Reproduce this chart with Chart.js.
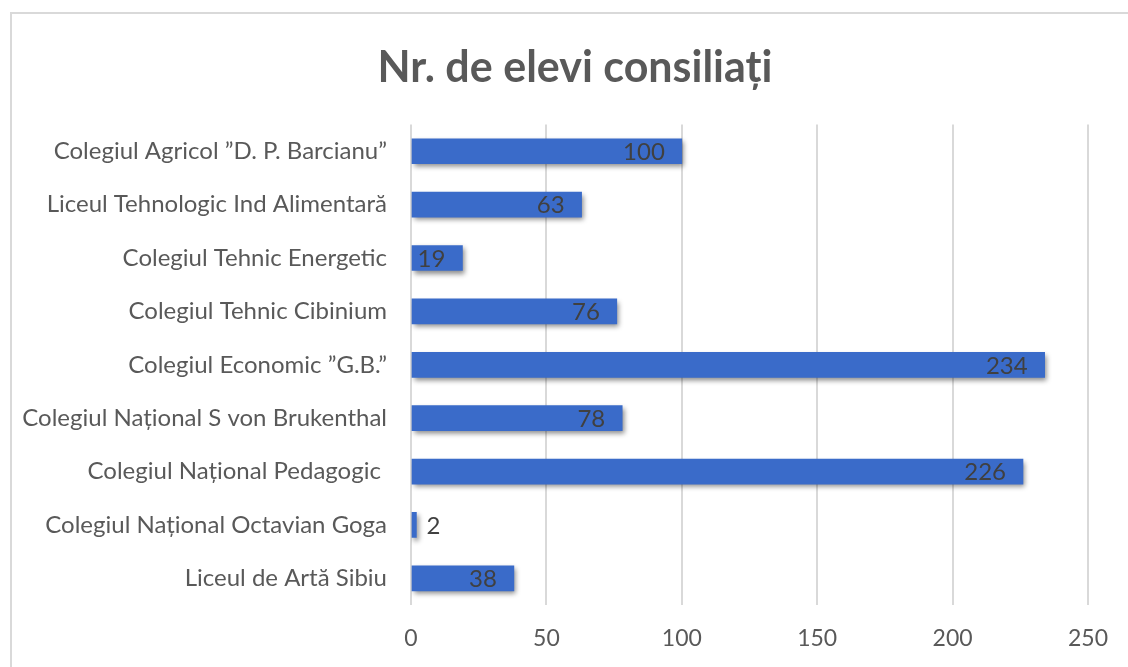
<!DOCTYPE html>
<html>
<head>
<meta charset="utf-8">
<script src="https://cdn.jsdelivr.net/npm/chart.js@4.4.1/dist/chart.umd.min.js"></script>
<style>
  html, body { margin: 0; padding: 0; background: #fff; overflow: hidden; }
  #wrap { position: relative; width: 1128px; height: 667px; }
  #frame { position: absolute; left: 10px; top: 12px; width: 1200px; height: 700px; border: 2px solid #d9d9d9; box-sizing: border-box; }
  canvas { position: absolute; left: 0; top: 0; }
</style>
</head>
<body>
<div id="wrap">
  <div id="frame"></div>
  <canvas id="myChart" width="1128" height="667"></canvas>
</div>
<script>
// --- données du graphique ---
const titre = 'Nr. de elevi consiliați';
const categories = [
  'Colegiul Agricol ”D. P. Barcianu”',
  'Liceul Tehnologic Ind Alimentară',
  'Colegiul Tehnic Energetic',
  'Colegiul Tehnic Cibinium',
  'Colegiul Economic ”G.B.”',
  'Colegiul Național S von Brukenthal',
  'Colegiul Național Pedagogic ',
  'Colegiul Național Octavian Goga',
  'Liceul de Artă Sibiu'
];
const valeurs = [100, 63, 19, 76, 234, 78, 226, 2, 38];
const graduations = [0, 50, 100, 150, 200, 250];

const police = 'Lato, "Open Sans", sans-serif';
const gris = '#595959';

// ombre sous les barres
const ombre = {
  id: 'ombre',
  beforeDatasetsDraw(chart) {
    const c = chart.ctx;
    c.save();
    c.shadowColor = 'rgba(0,0,0,0.45)';
    c.shadowBlur = 5;
    c.shadowOffsetX = 2;
    c.shadowOffsetY = 3;
  },
  afterDatasetsDraw(chart) {
    chart.ctx.restore();
  }
};

// décale le titre vers la droite (centré sur ~575px comme l'original)
const titreDecale = {
  id: 'titreDecale',
  afterLayout(chart) {
    if (chart.titleBlock) chart.titleBlock.left += 60;
  }
};

// étiquettes de valeurs
const etiquettes = {
  id: 'etiquettes',
  afterDatasetsDraw(chart) {
    const c = chart.ctx;
    const meta = chart.getDatasetMeta(0);
    c.save();
    c.font = '24px ' + police;
    c.fillStyle = '#404040';
    c.textBaseline = 'middle';
    meta.data.forEach((bar, i) => {
      const txt = String(valeurs[i]);
      const w = c.measureText(txt).width;
      const len = bar.x - bar.base;
      if (len > w + 10) {
        c.textAlign = 'right';
        c.fillText(txt, bar.x - 17, bar.y + 1);
      } else {
        c.textAlign = 'left';
        c.fillText(txt, bar.x + 10, bar.y + 1);
      }
    });
    c.restore();
  }
};

const ctx = document.getElementById('myChart');
new Chart(ctx, {
  type: 'bar',
  data: {
    labels: categories,
    datasets: [{
      data: valeurs,
      barThickness: 25,
      borderWidth: 0,
      backgroundColor: (context) => {
        const el = context.element;
        if (!el || !Number.isFinite(el.y)) return '#3a6bc9';
        const y = el.y;
        const g = context.chart.ctx.createLinearGradient(0, y - 12, 0, y + 12);
        g.addColorStop(0, '#5285dc');
        g.addColorStop(0.5, '#3a6bcb');
        g.addColorStop(1, '#2a55ae');
        return g;
      }
    }]
  },
  options: {
    indexAxis: 'y',
    responsive: false,
    animation: false,
    layout: { padding: { left: 0, right: 38, top: 0, bottom: 0 } },
    plugins: {
      legend: { display: false },
      tooltip: { enabled: false },
      title: {
        display: true,
        text: titre,
        color: gris,
        font: { family: police, size: 43, weight: 'bold' },
        padding: { top: 42, bottom: 31 }
      }
    },
    scales: {
      x: {
        min: 0,
        max: 250,
        afterBuildTicks: (s) => { s.ticks = graduations.map(v => ({ value: v })); },
        afterFit: (s) => { s.height = 62; },
        grid: { color: '#d9d9d9', lineWidth: 2, drawTicks: false },
        border: { display: false },
        ticks: { color: gris, font: { family: police, size: 23 }, padding: 20 }
      },
      y: {
        grid: { display: false },
        border: { display: false },
        afterFit: (s) => { s.width = 411; },
        ticks: { color: gris, font: { family: police, size: 24 }, padding: 16 }
      }
    }
  },
  plugins: [ombre, etiquettes, titreDecale]
});
</script>
</body>
</html>
